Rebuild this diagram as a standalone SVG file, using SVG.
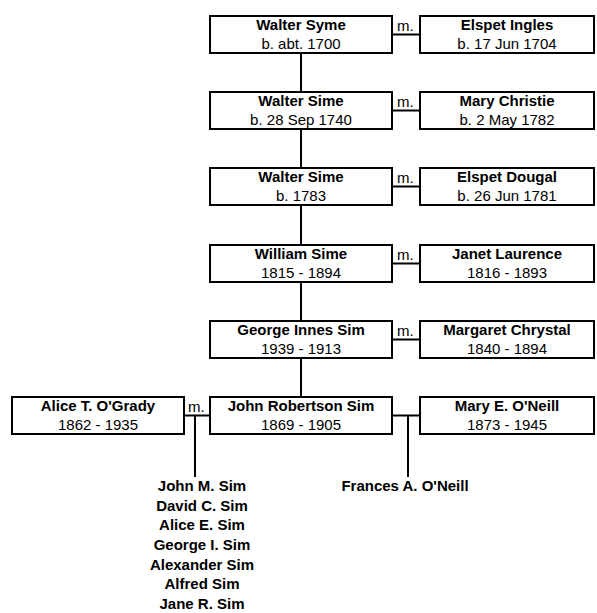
<svg xmlns="http://www.w3.org/2000/svg" width="597" height="613" viewBox="0 0 597 613">
<style>
.box{fill:#fff;stroke:#000;stroke-width:2}
.n{font-family:"Liberation Sans",Arial,sans-serif;font-size:15px;font-weight:bold;text-anchor:middle;fill:#000}
.d{font-family:"Liberation Sans",Arial,sans-serif;font-size:15px;text-anchor:middle;fill:#000}
.m{font-family:"Liberation Sans",Arial,sans-serif;font-size:15px;fill:#000}
.c{stroke:#000;stroke-width:2;fill:none}
</style>
<rect width="597" height="613" fill="#fff"/>
<g id="connectors">
<path class="c" d="M301 53V92M301 129V168M301 205V245M301 282V321M301 358V397"/>
<path class="c" d="M392 34.5H420M392 110.5H420M392 186.5H420M392 263.5H420M392 339.5H420"/>
<path class="c" d="M184 415.5H210M195 415.5V477"/>
<path class="c" d="M392 415.5H420M408 415.5V477"/>
</g>
<g id="walter-syme"><rect class="box" x="210" y="16" width="182" height="37"/><text class="n" x="301" y="29.5">Walter Syme</text><text class="d" x="301" y="48.5">b. abt. 1700</text></g>
<g id="elspet-ingles"><rect class="box" x="420" y="16" width="174" height="37"/><text class="n" x="507" y="29.5">Elspet Ingles</text><text class="d" x="507" y="48.5">b. 17 Jun 1704</text></g>
<text class="m" x="397" y="31">m.</text>
<g id="walter-sime-1740"><rect class="box" x="210" y="92" width="182" height="37"/><text class="n" x="301" y="105.5">Walter Sime</text><text class="d" x="301" y="124.5">b. 28 Sep 1740</text></g>
<g id="mary-christie"><rect class="box" x="420" y="92" width="174" height="37"/><text class="n" x="507" y="105.5">Mary Christie</text><text class="d" x="507" y="124.5">b. 2 May 1782</text></g>
<text class="m" x="397" y="107">m.</text>
<g id="walter-sime-1783"><rect class="box" x="210" y="168" width="182" height="37"/><text class="n" x="301" y="181.5">Walter Sime</text><text class="d" x="301" y="200.5">b. 1783</text></g>
<g id="elspet-dougal"><rect class="box" x="420" y="168" width="174" height="37"/><text class="n" x="507" y="181.5">Elspet Dougal</text><text class="d" x="507" y="200.5">b. 26 Jun 1781</text></g>
<text class="m" x="397" y="183">m.</text>
<g id="william-sime"><rect class="box" x="210" y="245" width="182" height="37"/><text class="n" x="301" y="258.5">William Sime</text><text class="d" x="301" y="277.5">1815 - 1894</text></g>
<g id="janet-laurence"><rect class="box" x="420" y="245" width="174" height="37"/><text class="n" x="507" y="258.5">Janet Laurence</text><text class="d" x="507" y="277.5">1816 - 1893</text></g>
<text class="m" x="397" y="260">m.</text>
<g id="george-innes-sim"><rect class="box" x="210" y="321" width="182" height="37"/><text class="n" x="301" y="334.5">George Innes Sim</text><text class="d" x="301" y="353.5">1939 - 1913</text></g>
<g id="margaret-chrystal"><rect class="box" x="420" y="321" width="174" height="37"/><text class="n" x="507" y="334.5">Margaret Chrystal</text><text class="d" x="507" y="353.5">1840 - 1894</text></g>
<text class="m" x="397" y="336">m.</text>
<g id="alice-ogrady"><rect class="box" x="12" y="397" width="172" height="37"/><text class="n" x="98" y="410.5">Alice T. O'Grady</text><text class="d" x="98" y="429.5">1862 - 1935</text></g>
<text class="m" x="188" y="412">m.</text>
<g id="john-robertson-sim"><rect class="box" x="210" y="397" width="182" height="37"/><text class="n" x="301" y="410.5">John Robertson Sim</text><text class="d" x="301" y="429.5">1869 - 1905</text></g>
<g id="mary-oneill"><rect class="box" x="420" y="397" width="174" height="37"/><text class="n" x="507" y="410.5">Mary E. O'Neill</text><text class="d" x="507" y="429.5">1873 - 1945</text></g>
<g id="children-sim">
<text class="n" x="202" y="491">John M. Sim</text>
<text class="n" x="202" y="511">David C. Sim</text>
<text class="n" x="202" y="530">Alice E. Sim</text>
<text class="n" x="202" y="550">George I. Sim</text>
<text class="n" x="202" y="570">Alexander Sim</text>
<text class="n" x="202" y="589">Alfred Sim</text>
<text class="n" x="202" y="609">Jane R. Sim</text>
</g>
<g id="frances-oneill"><text class="n" x="405" y="491">Frances A. O'Neill</text></g>
</svg>
